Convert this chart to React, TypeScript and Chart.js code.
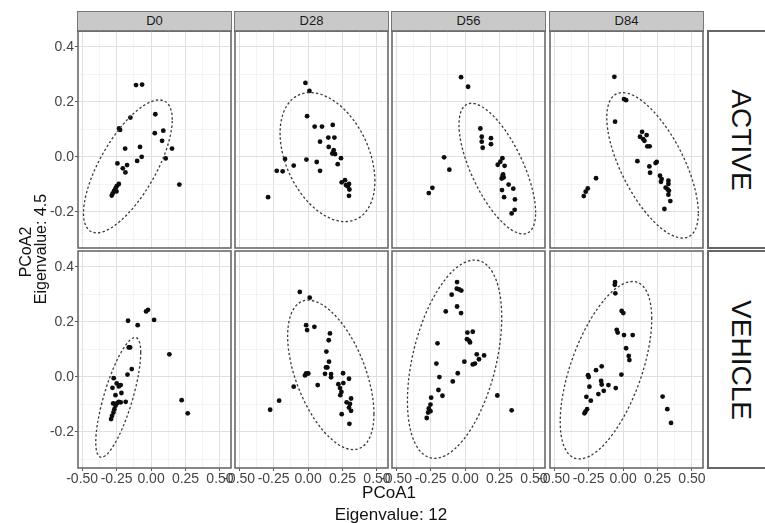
import React, { useEffect, useRef } from 'react';
import { Chart, registerables } from 'chart.js';
Chart.register(...registerables);

const DAYS = ['D0', 'D28', 'D56', 'D84'];
const GROUPS = ['ACTIVE', 'VEHICLE'];
const X_TITLE = ['PCoA1', 'Eigenvalue: 12'];
const Y_TITLE = ['PCoA2', 'Eigenvalue: 4.5'];
const X_TICKS = [-0.5, -0.375, -0.25, -0.125, 0, 0.125, 0.25, 0.375, 0.5];
const Y_TICKS = [-0.3, -0.2, -0.1, 0, 0.1, 0.2, 0.3, 0.4];
const X_RANGE = [-0.53, 0.58];
const Y_RANGE = [-0.332, 0.458];

type P = [number, number];
const ACTIVE_D0: P[] = [[-0.109,0.261],[-0.065,0.263],[0.031,0.155],[-0.150,0.143],[-0.232,0.103],[-0.225,0.098],[0.027,0.086],[0.089,0.095],[0.080,0.058],[-0.188,0.030],[-0.080,0.036],[0.152,0.030],[-0.068,0.000],[-0.101,-0.015],[0.106,-0.006],[-0.244,-0.024],[-0.174,-0.030],[-0.205,-0.042],[-0.186,-0.057],[0.205,-0.101],[-0.234,-0.099],[-0.249,-0.107],[-0.258,-0.115],[-0.268,-0.124],[-0.278,-0.133],[-0.285,-0.141],[-0.251,-0.126]];
const ACTIVE_D28: P[] = [[-0.019,0.269],[0.010,0.240],[-0.007,0.148],[0.048,0.110],[0.101,0.110],[0.179,0.116],[0.147,0.070],[0.191,0.070],[0.087,0.055],[0.150,0.036],[0.186,0.024],[0.176,0.012],[0.196,0.010],[0.239,-0.005],[-0.167,-0.008],[-0.012,-0.010],[0.063,-0.019],[0.215,-0.027],[-0.104,-0.032],[-0.227,-0.051],[-0.184,-0.053],[0.087,-0.051],[0.244,-0.093],[0.268,-0.085],[0.275,-0.103],[0.297,-0.099],[0.287,-0.107],[0.300,-0.119],[0.297,-0.142],[-0.290,-0.147]];
const ACTIVE_D56: P[] = [[-0.029,0.290],[0.022,0.255],[0.111,0.103],[0.121,0.073],[0.188,0.068],[0.121,0.055],[0.188,0.046],[0.128,0.033],[-0.152,-0.002],[0.271,-0.005],[0.256,-0.018],[0.237,-0.029],[0.287,-0.033],[-0.114,-0.047],[0.273,-0.069],[0.280,-0.075],[0.266,-0.079],[0.276,-0.064],[0.316,-0.101],[0.350,-0.116],[0.268,-0.121],[-0.237,-0.113],[-0.263,-0.132],[0.283,-0.147],[0.362,-0.155],[0.360,-0.193],[0.338,-0.206]];
const ACTIVE_D84: P[] = [[-0.063,0.291],[0.007,0.210],[0.022,0.206],[-0.058,0.128],[0.138,0.091],[0.171,0.079],[0.123,0.073],[0.147,0.064],[0.155,0.058],[0.176,0.038],[0.193,0.038],[0.104,-0.016],[0.244,-0.019],[0.236,-0.023],[0.191,-0.035],[0.196,-0.058],[0.268,-0.069],[0.280,-0.081],[0.329,-0.087],[0.275,-0.091],[0.329,-0.099],[0.309,-0.112],[0.324,-0.119],[0.333,-0.124],[0.329,-0.138],[0.343,-0.161],[0.300,-0.190],[-0.196,-0.078],[-0.256,-0.115],[-0.271,-0.127],[-0.285,-0.143]];
const VEHICLE_D0: P[] = [[-0.036,0.238],[-0.022,0.244],[0.022,0.207],[-0.167,0.204],[-0.097,0.188],[-0.152,0.107],[-0.162,0.107],[0.133,0.082],[-0.140,0.028],[-0.171,0.008],[-0.271,-0.005],[-0.249,-0.024],[-0.220,-0.030],[-0.234,-0.035],[-0.280,-0.040],[-0.215,-0.059],[-0.258,-0.067],[-0.184,-0.091],[-0.234,-0.091],[-0.246,-0.096],[-0.220,-0.093],[-0.275,-0.097],[-0.258,-0.105],[-0.266,-0.118],[-0.273,-0.130],[-0.283,-0.142],[-0.290,-0.154],[0.222,-0.085],[0.266,-0.133]];
const VEHICLE_D28: P[] = [[-0.060,0.309],[0.012,0.288],[-0.014,0.188],[0.046,0.182],[-0.007,0.170],[0.159,0.158],[0.150,0.133],[0.133,0.092],[0.152,0.055],[0.130,0.034],[0.140,0.034],[-0.014,0.012],[0.002,0.012],[-0.022,0.005],[0.123,0.011],[0.167,0.010],[0.167,-0.002],[0.254,0.013],[0.297,-0.007],[0.070,-0.030],[0.220,-0.027],[0.256,-0.023],[0.232,-0.041],[0.242,-0.055],[0.234,-0.067],[-0.104,-0.036],[-0.210,-0.087],[-0.275,-0.120],[0.312,-0.079],[0.280,-0.093],[0.304,-0.099],[0.297,-0.112],[0.312,-0.124],[0.244,-0.136],[0.300,-0.171]];
const VEHICLE_D56: P[] = [[-0.058,0.345],[-0.060,0.321],[-0.043,0.318],[-0.027,0.314],[-0.097,0.299],[-0.058,0.256],[-0.140,0.238],[-0.029,0.232],[0.056,0.164],[0.017,0.161],[0.014,0.137],[0.029,0.132],[0.036,0.125],[-0.200,0.122],[0.085,0.082],[0.138,0.078],[0.101,0.064],[0.072,0.048],[0.056,0.045],[-0.005,0.055],[-0.208,0.048],[-0.053,0.013],[-0.186,-0.001],[-0.089,-0.017],[-0.193,-0.048],[-0.164,-0.069],[-0.246,-0.076],[-0.251,-0.101],[-0.263,-0.115],[-0.251,-0.125],[-0.268,-0.130],[-0.278,-0.150],[0.234,-0.068],[0.338,-0.122]];
const VEHICLE_D84: P[] = [[-0.058,0.345],[-0.060,0.335],[-0.056,0.304],[-0.010,0.240],[0.002,0.232],[-0.046,0.171],[-0.039,0.161],[0.007,0.152],[0.070,0.152],[0.022,0.104],[0.041,0.076],[0.046,0.061],[-0.155,0.038],[-0.196,0.024],[-0.254,0.006],[-0.249,-0.001],[-0.012,0.008],[-0.159,-0.015],[-0.155,-0.028],[-0.106,-0.030],[-0.244,-0.036],[-0.053,-0.041],[-0.140,-0.051],[-0.179,-0.063],[-0.266,-0.073],[-0.234,-0.087],[-0.261,-0.118],[-0.273,-0.127],[-0.280,-0.133],[0.287,-0.072],[0.321,-0.118],[0.348,-0.168]];

// ellipse: [centerX, centerY, halfWidth, halfHeight, yOffsetOfRightmostPoint]
const ELLIPSE_ACTIVE_D0 = [-0.168, -0.035, 0.322, 0.242, 0.170];
const ELLIPSE_ACTIVE_D28 = [0.141, -0.001, 0.344, 0.235, -0.087];
const ELLIPSE_ACTIVE_D56 = [0.234, -0.043, 0.278, 0.238, -0.160];
const ELLIPSE_ACTIVE_D84 = [0.214, -0.031, 0.332, 0.265, -0.174];
const ELLIPSE_VEHICLE_D0 = [-0.238, -0.075, 0.163, 0.218, 0.163];
const ELLIPSE_VEHICLE_D28 = [0.165, 0.007, 0.313, 0.272, -0.142];
const ELLIPSE_VEHICLE_D56 = [-0.076, 0.064, 0.342, 0.361, 0.152];
const ELLIPSE_VEHICLE_D84 = [-0.124, 0.024, 0.332, 0.323, 0.187];

const POINTS = [
  [ACTIVE_D0, ACTIVE_D28, ACTIVE_D56, ACTIVE_D84],
  [VEHICLE_D0, VEHICLE_D28, VEHICLE_D56, VEHICLE_D84],
];
const ELLIPSES = [
  [ELLIPSE_ACTIVE_D0, ELLIPSE_ACTIVE_D28, ELLIPSE_ACTIVE_D56, ELLIPSE_ACTIVE_D84],
  [ELLIPSE_VEHICLE_D0, ELLIPSE_VEHICLE_D28, ELLIPSE_VEHICLE_D56, ELLIPSE_VEHICLE_D84],
];

const FONT = '"Liberation Sans", Arial, Helvetica, sans-serif';
const PANEL_W = 153;
const PANEL_H = 217;
const COL_LEFT = [78, 235, 392, 550];
const ROW_TOP = [31, 251];
const STRIP_TOP = 11;
const STRIP_H = 21;
const RSTRIP_LEFT = 707;

const isMajorX = (v: number) => Math.abs(v * 4 - Math.round(v * 4)) < 1e-6;
const isMajorY = (v: number) => Math.abs(v * 5 - Math.round(v * 5)) < 1e-6;

const ellipsePlugin = {
  id: 'ellipse',
  afterDatasetsDraw(chart: any, _args: any, opts: any) {
    const e = opts && opts.e;
    if (!e) return;
    const [cx, cy, hw, hh, ry] = e;
    const xs = chart.scales.x, ys = chart.scales.y;
    const px = xs.getPixelForValue(cx);
    const py = ys.getPixelForValue(cy);
    const ux = xs.getPixelForValue(cx + hw) - px;
    const uy = ys.getPixelForValue(cy + ry) - py;
    const vy = ys.getPixelForValue(cy + Math.sqrt(Math.max(hh * hh - ry * ry, 1e-9))) - py;
    const ctx = chart.ctx;
    const a = chart.chartArea;
    ctx.save();
    ctx.beginPath();
    ctx.rect(a.left, a.top, a.right - a.left, a.bottom - a.top);
    ctx.clip();
    ctx.save();
    ctx.transform(ux, uy, 0, vy, px, py);
    ctx.beginPath();
    ctx.arc(0, 0, 1, 0, Math.PI * 2);
    ctx.restore();
    ctx.setLineDash([2.4, 2.2]);
    ctx.lineWidth = 1.3;
    ctx.strokeStyle = '#3c3c3c';
    ctx.stroke();
    ctx.restore();
  },
};

const framePlugin = {
  id: 'frame',
  afterDraw(chart: any) {
    const a = chart.chartArea;
    const ctx = chart.ctx;
    ctx.save();
    ctx.strokeStyle = '#6a6a6a';
    ctx.lineWidth = 1.6;
    ctx.strokeRect(a.left, a.top, a.right - a.left, a.bottom - a.top);
    ctx.restore();
  },
};

function Panel({ row, col }: { row: number; col: number }) {
  const ref = useRef<HTMLCanvasElement>(null);
  const showY = col === 0;
  const showX = row === 1;
  const axisW = showY ? 44 : 0;
  const axisH = showX ? 20 : 0;
  const padL = showX && !showY ? 14 : 3;
  const padR = showX ? 9 : 3;
  const padT = 3;
  const padB = 3;
  const left = COL_LEFT[col] - axisW - padL;
  const top = ROW_TOP[row] - padT;
  const w = padL + axisW + PANEL_W + padR;
  const h = padT + PANEL_H + axisH + padB;

  useEffect(() => {
    const pts = POINTS[row][col];
    const chart = new Chart(ref.current as HTMLCanvasElement, {
      type: 'scatter',
      data: {
        datasets: [
          {
            data: pts.map(([x, y]) => ({ x, y })),
            pointRadius: 2.4,
            pointHoverRadius: 2.4,
            pointBackgroundColor: '#0d0d0d',
            pointBorderWidth: 0,
          },
        ],
      },
      options: {
        animation: false,
        responsive: false,
        devicePixelRatio: 1,
        events: [],
        layout: { autoPadding: false, padding: { left: padL, right: padR, top: padT, bottom: padB } },
        plugins: {
          legend: { display: false },
          tooltip: { enabled: false },
          ellipse: { e: ELLIPSES[row][col] },
        } as any,
        scales: {
          x: {
            type: 'linear',
            min: X_RANGE[0],
            max: X_RANGE[1],
            afterBuildTicks: (s: any) => {
              s.ticks = X_TICKS.map((v) => ({ value: v }));
            },
            afterFit: (s: any) => {
              s.height = axisH;
              s.paddingLeft = 0;
              s.paddingRight = 0;
              s.paddingTop = 0;
              s.paddingBottom = 0;
            },
            border: { display: false },
            grid: {
              color: (c: any) => (c.tick && isMajorX(c.tick.value) ? '#e0e0e0' : '#efefef'),
              lineWidth: (c: any) => (c.tick && isMajorX(c.tick.value) ? 1 : 0.7),
              drawTicks: showX,
              tickLength: 3,
              tickColor: (c: any) => (c.tick && isMajorX(c.tick.value) ? '#555' : 'rgba(0,0,0,0)'),
            },
            ticks: {
              display: showX,
              autoSkip: false,
              maxRotation: 0,
              minRotation: 0,
              padding: 0,
              color: '#444',
              font: { family: FONT, size: 14 },
              callback: (v: any) => (isMajorX(Number(v)) ? Number(v).toFixed(2) : ''),
            },
          },
          y: {
            type: 'linear',
            min: Y_RANGE[0],
            max: Y_RANGE[1],
            afterBuildTicks: (s: any) => {
              s.ticks = Y_TICKS.map((v) => ({ value: v }));
            },
            afterFit: (s: any) => {
              s.width = axisW;
              s.paddingLeft = 0;
              s.paddingRight = 0;
              s.paddingTop = 0;
              s.paddingBottom = 0;
            },
            border: { display: false },
            grid: {
              color: (c: any) => (c.tick && isMajorY(c.tick.value) ? '#e0e0e0' : '#efefef'),
              lineWidth: (c: any) => (c.tick && isMajorY(c.tick.value) ? 1 : 0.7),
              drawTicks: showY,
              tickLength: 3,
              tickColor: (c: any) => (c.tick && isMajorY(c.tick.value) ? '#555' : 'rgba(0,0,0,0)'),
            },
            ticks: {
              display: showY,
              autoSkip: false,
              padding: 1,
              color: '#444',
              font: { family: FONT, size: 14 },
              callback: (v: any) => (isMajorY(Number(v)) ? Number(v).toFixed(1) : ''),
            },
          },
        },
      } as any,
      plugins: [ellipsePlugin, framePlugin],
    });
    return () => chart.destroy();
  }, []);

  return (
    <canvas
      ref={ref}
      width={w}
      height={h}
      style={{ position: 'absolute', left, top, width: w, height: h }}
    />
  );
}

export default function App() {
  const panels: React.ReactNode[] = [];
  for (let r = 0; r < GROUPS.length; r++) {
    for (let c = 0; c < DAYS.length; c++) {
      panels.push(<Panel key={`${r}-${c}`} row={r} col={c} />);
    }
  }
  return (
    <div
      style={{
        position: 'absolute',
        left: 0,
        top: 0,
        width: 765,
        height: 523,
        overflow: 'hidden',
        background: '#fff',
        fontFamily: FONT,
      }}
    >
      {DAYS.map((d, c) => (
        <div
          key={d}
          style={{
            position: 'absolute',
            left: COL_LEFT[c] - 0.8,
            top: STRIP_TOP,
            width: PANEL_W + 1.6,
            height: STRIP_H,
            boxSizing: 'border-box',
            background: '#c9c9c9',
            border: '1.5px solid #777',
            color: '#1a1a1a',
            fontSize: 13,
            lineHeight: `${STRIP_H - 3}px`,
            textAlign: 'center',
          }}
        >
          {d}
        </div>
      ))}
      {GROUPS.map((g, r) => (
        <div
          key={g}
          style={{
            position: 'absolute',
            left: RSTRIP_LEFT,
            top: ROW_TOP[r] - 1,
            width: 70,
            height: PANEL_H + 2,
            boxSizing: 'border-box',
            background: '#fff',
            border: '2px solid #666',
          }}
        >
          <div
            style={{
              position: 'absolute',
              left: 32,
              top: (PANEL_H + 2) / 2 - 2,
              transform: 'translate(-50%, -50%) rotate(90deg)',
              whiteSpace: 'nowrap',
              fontSize: 28,
              color: '#111',
              lineHeight: 1,
            }}
          >
            {g}
          </div>
        </div>
      ))}
      {panels}
      <div
        style={{
          position: 'absolute',
          left: 389,
          top: 491.5,
          transform: 'translate(-50%, -50%)',
          whiteSpace: 'nowrap',
          fontSize: 17,
          lineHeight: 1,
          color: '#111',
        }}
      >
        {X_TITLE[0]}
      </div>
      <div
        style={{
          position: 'absolute',
          left: 391,
          top: 513.5,
          transform: 'translate(-50%, -50%)',
          whiteSpace: 'nowrap',
          fontSize: 17,
          lineHeight: 1,
          color: '#111',
        }}
      >
        {X_TITLE[1]}
      </div>
      <div
        style={{
          position: 'absolute',
          left: 26,
          top: 252,
          transform: 'translate(-50%, -50%) rotate(-90deg)',
          whiteSpace: 'nowrap',
          fontSize: 16,
          lineHeight: 1,
          color: '#111',
        }}
      >
        {Y_TITLE[0]}
      </div>
      <div
        style={{
          position: 'absolute',
          left: 41,
          top: 249,
          transform: 'translate(-50%, -50%) rotate(-90deg)',
          whiteSpace: 'nowrap',
          fontSize: 16,
          lineHeight: 1,
          color: '#111',
        }}
      >
        {Y_TITLE[1]}
      </div>
    </div>
  );
}
